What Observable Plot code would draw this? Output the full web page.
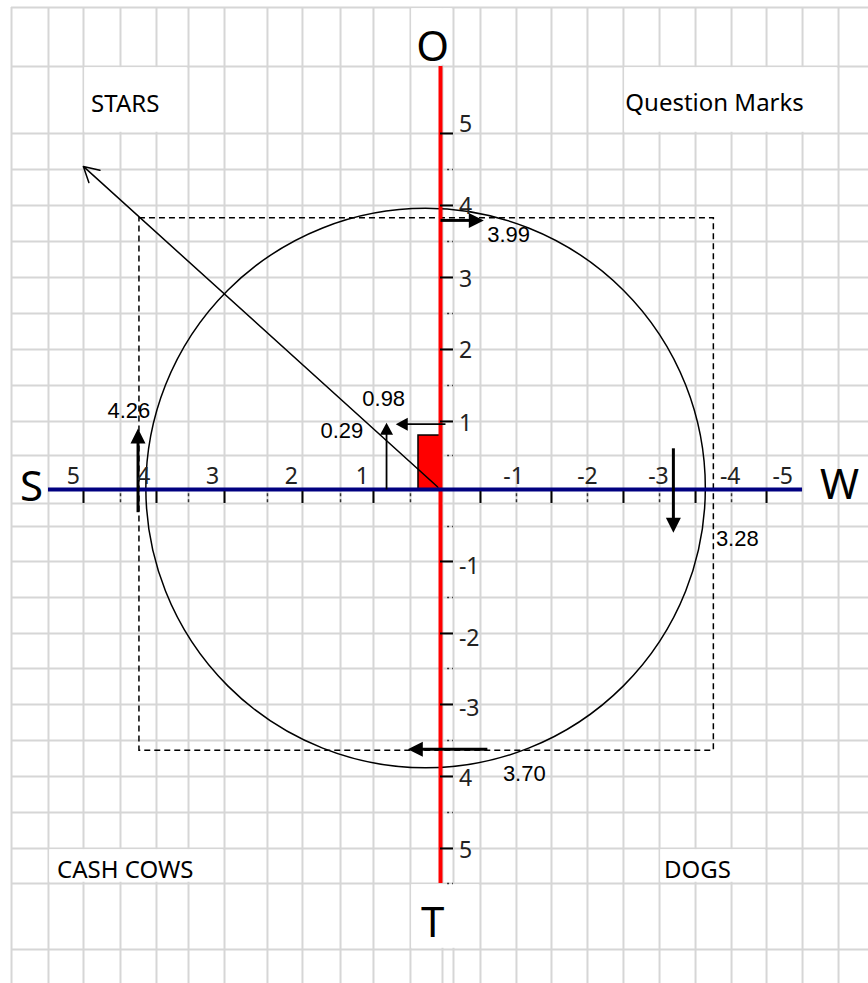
<!DOCTYPE html>
<html><head><meta charset="utf-8">
<script src="https://cdn.jsdelivr.net/npm/d3@7"></script>
<script src="https://cdn.jsdelivr.net/npm/@observablehq/plot@0.6"></script>
<style>html,body{margin:0;padding:0;background:#fff;} #chart svg{display:block;}</style>
</head><body><div id="chart"></div>
<script>
// ---------------- data (chart units: S positive to the left, O positive up) ----------------
const xDomain = [6.197, -6.028];
const yDomain = [-6.958, 6.887];

// background worksheet grid (cell borders)
const gridCols = [6.042, 5.521, 5.028, 4.507, 4.0, 3.549, 3.042, 2.437, 1.944, 1.408, 0.944, 0.423, -0.028, -0.183, -0.563, -1.070, -1.563, -2.070, -2.577, -3.085, -3.592, -4.099, -4.592, -5.099, -5.606];
const gridRows = [6.789, 5.958, 5.014, 4.507, 4.0, 3.493, 2.986, 2.479, 1.972, 1.465, 0.958, 0.479, -0.197, -0.521, -1.014, -1.521, -2.028, -2.521, -3.028, -3.535, -4.042, -4.549, -5.056, -5.549, -6.479];
const mergedColFrom = [2, 18, 1, 19, 11, 11];
const mergedColTo   = [5, 24, 6, 22, 13, 14];
const mergedRowFrom = [1, 1, 22, 22, 0, 23];
const mergedRowTo   = [2, 2, 23, 23, 1, 24];

// axis ticks (indices into the grid)
const xMajorIdx = [2, 4, 6, 8, 10, 14, 16, 18, 20, 22];
const xMinorIdx = [3, 5, 7, 9, 11, 15, 17, 19, 21];
const yMajorIdx = [2, 4, 6, 8, 10, 14, 16, 18, 20, 22];
const yMinorIdx = [3, 5, 7, 9, 11, 13, 15, 17, 19, 21, 23];

const xTickLabels = ["5", "4", "3", "2", "1", "-1", "-2", "-3", "-4", "-5"];
const xTickLabelPos = [5.17, 4.18, 3.21, 2.10, 1.10, -1.03, -2.07, -3.07, -4.08, -4.82];
const xTickLabelY = 0.18;
const yTickLabels = ["5", "4", "3", "2", "1", "-1", "-2", "-3", "4", "5"];
const yTickLabelPos = [5.14, 3.99, 2.96, 1.96, 0.93, -1.08, -2.10, -3.08, -4.07, -5.08];
const yTickLabelX = -0.26;

// axis names
const axisNames = ["S", "W", "O", "T"];
const axisNameX = [5.76, -5.62, 0.11, 0.11];
const axisNameY = [0.03, 0.06, 6.23, -6.11];

// quadrant names
const quadrantNames = ["STARS", "Question Marks", "CASH COWS", "DOGS"];
const quadrantX = [4.44, -3.86, 4.44, -3.62];
const quadrantY = [5.42, 5.44, -5.37, -5.37];

// SWOT scores: S, W, O, T
const scoreLabels = ["4.26", "3.28", "3.99", "3.70"];
const scoreFromX = [4.26, -3.28, 0.0, -0.66];
const scoreFromY = [-0.32, 0.58, 3.79, -3.66];
const scoreToX = [4.26, -3.28, -0.61, 0.46];
const scoreToY = [0.86, -0.61, 3.79, -3.66];
const scoreLabelX = [4.39, -4.18, -0.96, -1.18];
const scoreLabelY = [1.11, -0.70, 3.59, -4.01];

// differences: S-W = 0.98, O-T = 0.29
const diffLabels = ["0.98", "0.29"];
const diffFromX = [-0.07, 0.76];
const diffFromY = [0.92, 0.0];
const diffToX = [0.63, 0.76];
const diffToY = [0.92, 0.94];
const diffLabelX = [0.80, 1.39];
const diffLabelY = [1.27, 0.82];

// result bar, strategy direction, circle, dashed box
const barX = [0, 0.31];
const barY = [0, 0.76];
const directionFrom = [0, 0];
const directionTo = [5.03, 4.55];
const circleCenter = [0.21, 0.02];
const circleRadius = 3.94;
const boxX = [4.24, -3.85];
const boxY = [3.82, -3.68];

// ---------------- build ----------------
const W = 868, H = 983;
const PX = W / (xDomain[0] - xDomain[1]);

function arrowTable(labels, fx, fy, tx, ty, headLen) {
  return labels.map((l, i) => {
    const dx = tx[i] - fx[i], dy = ty[i] - fy[i];
    const len = Math.hypot(dx, dy);
    const ux = dx / len, uy = dy / len;
    const back = headLen / PX;
    return {
      x1: fx[i], y1: fy[i],
      sx: tx[i] - ux * (back - 2 / PX), sy: ty[i] - uy * (back - 2 / PX),
      bx: tx[i] - ux * back, by: ty[i] - uy * back,
      angle: Math.atan2(-dx, dy) * 180 / Math.PI
    };
  });
}
const scoreArrows = arrowTable(scoreLabels, scoreFromX, scoreFromY, scoreToX, scoreToY, 15);
const diffArrows = arrowTable(diffLabels, diffFromX, diffFromY, diffToX, diffToY, 12);

const merged = mergedColFrom.map((c, i) => ({
  x1: gridCols[c], x2: gridCols[mergedColTo[i]],
  y1: gridRows[mergedRowFrom[i]], y2: gridRows[mergedRowTo[i]]
}));

const sans = "Noto Sans";
const numFont = "Liberation Sans";

const chart = Plot.plot({
  width: W, height: H, margin: 0,
  x: {domain: xDomain, range: [0, W], axis: null},
  y: {domain: yDomain, range: [H, 0], axis: null},
  style: {background: "white"},
  marks: [
    // grid
    Plot.ruleX(gridCols, {y1: gridRows[0], y2: yDomain[0], stroke: "#d6d6d6", strokeWidth: 2}),
    Plot.ruleY(gridRows, {x1: gridCols[0], x2: xDomain[1], stroke: "#d6d6d6", strokeWidth: 2}),
    Plot.rect(merged, {x1: "x1", x2: "x2", y1: "y1", y2: "y2", fill: "white", inset: 1.2}),
    // dashed box
    Plot.rect([0], {x1: boxX[0], x2: boxX[1], y1: boxY[0], y2: boxY[1], fill: "none", stroke: "black", strokeWidth: 1.5, strokeDasharray: "6,4"}),
    // circle
    Plot.dot([circleCenter], {x: d => d[0], y: d => d[1], r: circleRadius * PX, fill: "none", stroke: "black", strokeWidth: 1.5}),
    // result bar
    Plot.rect([0], {x1: barX[0], x2: barX[1], y1: barY[0], y2: barY[1], fill: "#ff0000", stroke: "black", strokeWidth: 1.5}),
    // strategy direction arrow
    Plot.arrow([0], {x1: directionFrom[0], y1: directionFrom[1], x2: directionTo[0], y2: directionTo[1], stroke: "black", strokeWidth: 1.5, headLength: 17, headAngle: 58}),
    // axes
    Plot.ruleX([0], {y1: gridRows[1], y2: gridRows[23], stroke: "#ff0000", strokeWidth: 4}),
    Plot.ruleY([0], {x1: gridCols[1], x2: gridCols[23], stroke: "#000080", strokeWidth: 4}),
    // ticks
    Plot.ruleX(xMajorIdx.map(i => gridCols[i]), {y1: -0.03, y2: gridRows[12], stroke: "black", strokeWidth: 2}),
    Plot.ruleX(xMinorIdx.map(i => gridCols[i]), {y1: -0.06, y2: gridRows[12], stroke: "#333", strokeWidth: 1.5, strokeDasharray: "3,3"}),
    Plot.ruleY(yMajorIdx.map(i => gridRows[i]), {x1: 0, x2: gridCols[13], stroke: "black", strokeWidth: 2}),
    Plot.ruleY(yMinorIdx.map(i => gridRows[i]), {x1: -0.10, x2: gridCols[13], stroke: "#333", strokeWidth: 1.5, strokeDasharray: "2,3"}),
    // score arrows
    Plot.link(scoreArrows, {x1: "x1", y1: "y1", x2: "sx", y2: "sy", stroke: "black", strokeWidth: 3}),
    Plot.vector(scoreArrows, {x: "bx", y: "by", rotate: "angle", length: 15, r: 7.5, shape: "spike", anchor: "start", fill: "black", stroke: "none"}),
    // difference arrows
    Plot.link(diffArrows, {x1: "x1", y1: "y1", x2: "sx", y2: "sy", stroke: "black", strokeWidth: 1.8}),
    Plot.vector(diffArrows, {x: "bx", y: "by", rotate: "angle", length: 12, r: 6.5, shape: "spike", anchor: "start", fill: "black", stroke: "none"}),
    // tick labels
    Plot.text(xTickLabels, {x: (d, i) => xTickLabelPos[i], y: xTickLabelY, text: d => d, fontFamily: sans, fontSize: 23, fill: "#222"}),
    Plot.text(yTickLabels, {x: yTickLabelX, y: (d, i) => yTickLabelPos[i], text: d => d, textAnchor: "start", fontFamily: sans, fontSize: 23, fill: "#222"}),
    // axis names
    Plot.text(axisNames, {x: (d, i) => axisNameX[i], y: (d, i) => axisNameY[i], text: d => d, fontFamily: sans, fontSize: 42, fill: "black"}),
    // quadrant names
    Plot.text(quadrantNames, {x: (d, i) => quadrantX[i], y: (d, i) => quadrantY[i], text: d => d, fontFamily: sans, fontSize: 24, fill: "black"}),
    // value labels
    Plot.text(scoreLabels, {x: (d, i) => scoreLabelX[i], y: (d, i) => scoreLabelY[i], text: d => d, fontFamily: numFont, fontSize: 22, fill: "black"}),
    Plot.text(diffLabels, {x: (d, i) => diffLabelX[i], y: (d, i) => diffLabelY[i], text: d => d, fontFamily: numFont, fontSize: 22, fill: "black"})
  ]
});
document.getElementById("chart").appendChild(chart);
</script>
</body></html>
